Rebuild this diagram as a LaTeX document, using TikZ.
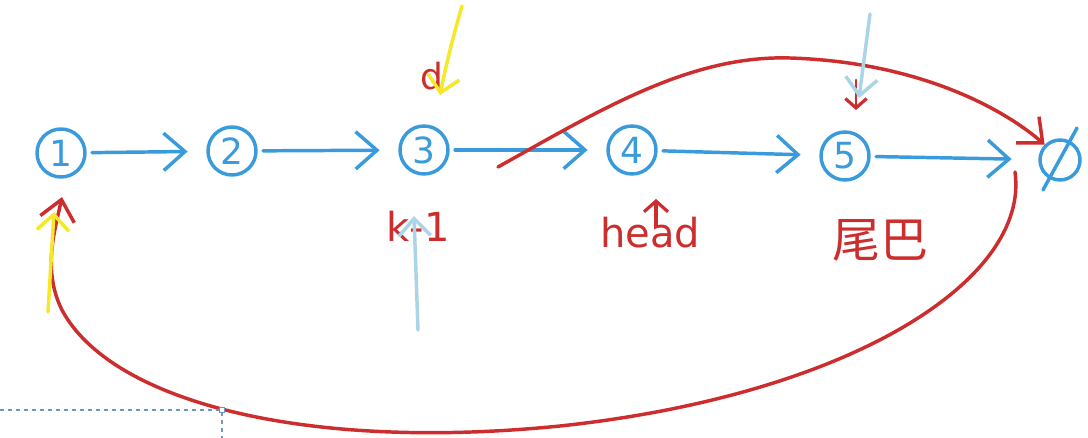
\documentclass[tikz,border=0pt]{standalone}
\usepackage{fontspec}
\setsansfont{DejaVu Sans}
\newfontfamily\cjk{Noto Sans CJK SC}
\usetikzlibrary{arrows.meta}
\definecolor{penblue}{RGB}{58,155,220}
\definecolor{penred}{RGB}{205,45,45}
\definecolor{penyellow}{RGB}{245,232,40}
\definecolor{penlight}{RGB}{170,212,232}
\definecolor{boxline}{RGB}{110,150,190}
\tikzset{
  pen/.style={line width=2.6pt, line cap=round, line join=round},
  listnode/.style={circle, draw=penblue, pen, minimum size=36pt, inner sep=0pt,
     text=penblue, font=\sffamily\fontsize{27}{27}\selectfont},
  link/.style={pen, draw=penblue, shorten <=4pt, shorten >=14pt,
     -{Straight Barb[length=16pt,width=28pt,line width=2.6pt]}},
  redarrow/.style={pen, draw=penred, -{Straight Barb[length=15pt,width=26pt,line width=2.6pt]}},
  yellowarrow/.style={pen, draw=penyellow, -{Straight Barb[length=12pt,width=24pt,line width=2.6pt]}},
  lightarrow/.style={pen, draw=penlight, -{Straight Barb[length=13pt,width=24pt,line width=2.6pt]}},
  redlabel/.style={text=penred, font=\sffamily\fontsize{30}{30}\selectfont},
}
\begin{document}
\begin{tikzpicture}[x=0.75pt, y=-0.75pt]
\useasboundingbox (0,0) rectangle (1088,438);
% list nodes
\node[listnode] (n1) at (61,153) {1};
\node[listnode] (n2) at (232,151) {2};
\node[listnode] (n3) at (424,150) {3};
\node[listnode] (n4) at (632,150) {4};
\node[listnode] (n5) at (845,156) {5};
\node[circle, draw=penblue, pen, minimum size=30pt, inner sep=0pt] (e) at (1060,160) {};
\draw[pen, penblue] (e.center) ++(-17,30) -- ++(34,-62);
% links
\draw[link] (n1) -- (n2);
\draw[link] (n2) -- (n3);
\draw[link] (n3) -- (n4);
\draw[link] (n4) -- (n5);
\draw[link, shorten >=20pt] (n5) -- (e);
% labels
\node[redlabel] (k) at (418,226) {k-1};
\node[redlabel] (h) at (650,233) {head};
\node[text=penred, font=\cjk\fontsize{36}{36}\selectfont] (t) at (880,240) {尾巴};
\node[text=penred, font=\sffamily\fontsize{27}{27}\selectfont] (d) at (432,76) {d};
% red curves
\coordinate (rs) at (498,167);
\draw[redarrow] (rs) .. controls (600,110) and (690,55) .. (790,58)
   .. controls (920,62) and (1005,110) .. (e.north west);
\coordinate (bs) at (1015,172);
\coordinate (b1) at (62,197);
\draw[redarrow] (bs) .. controls (1030,280) and (850,395) .. (560,426)
   .. controls (300,452) and (110,400) .. (62,310)
   .. controls (42,270) and (55,230) .. (b1);
\coordinate (hs) at (656,226);
\coordinate (ht) at (656,199);
\draw[pen, penred, -{Straight Barb[length=8pt,width=18pt,line width=2.4pt]}] (hs) -- (ht);
\coordinate (r5s) at (856,80);
\coordinate (r5t) at (856,110);
\draw[pen, penred, line width=1.6pt, -{Straight Barb[length=7pt,width=16pt,line width=2.4pt]}] (r5s) -- (r5t);
% yellow arrows
\coordinate (y1) at (48,312);
\coordinate (y1t) at (54,212);
\draw[yellowarrow] (y1) -- (y1t);
\coordinate (y2) at (462,6);
\coordinate (y2t) at (440,95);
\draw[yellowarrow] (y2) .. controls (452,40) and (445,70) .. (y2t);
% light blue arrows
\coordinate (l1) at (418,330);
\coordinate (l1t) at (414,216);
\draw[lightarrow] (l1) -- (l1t);
\coordinate (l2) at (870,14);
\coordinate (l2t) at (859,98);
\draw[lightarrow] (l2) -- (l2t);
% dashed selection box
\coordinate (c1) at (0,410);
\coordinate (c2) at (222,410);
\coordinate (c3) at (222,438);
\draw[boxline, dashed, line width=0.8pt] (c1) -- (c2) -- (c3);
\node[draw=boxline, fill=white, line width=0.6pt, minimum size=4pt, inner sep=0pt] (hdl) at (c2) {};
\end{tikzpicture}
\end{document}
